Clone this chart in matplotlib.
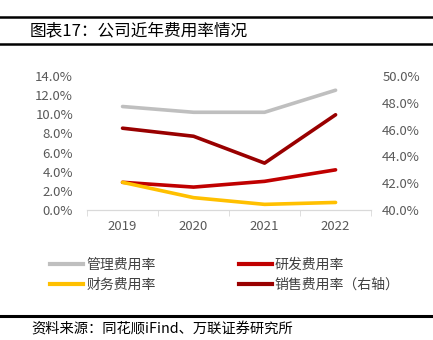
import matplotlib
matplotlib.use("Agg")
import matplotlib.pyplot as plt
from matplotlib.lines import Line2D
from matplotlib.ticker import FuncFormatter, FixedLocator

plt.rcParams["font.family"] = ["Noto Sans CJK SC", "DejaVu Sans"]

years = ["2019", "2020", "2021", "2022"]
admin_rate = [10.8, 10.2, 10.2, 12.5]      # 管理费用率, left axis
rnd_rate = [2.9, 2.4, 3.0, 4.2]            # 研发费用率, left axis
finance_rate = [2.9, 1.3, 0.6, 0.8]        # 财务费用率, left axis
sales_rate = [46.1, 45.5, 43.5, 47.1]      # 销售费用率, right axis

left_ticks = [0, 2, 4, 6, 8, 10, 12, 14]
right_ticks = [40, 42, 44, 46, 48, 50]

GRAY = "#BFBFBF"
RED = "#C00000"
DARKRED = "#990000"
YELLOW = "#FFC000"
TICK_COLOR = "#595959"

fig = plt.figure(figsize=(4.33, 3.4), dpi=100)
ax = fig.add_axes([0.201, 0.382, 0.656, 0.395])
ax2 = ax.twinx()

x = range(len(years))
lw = 2.6
ax.plot(x, admin_rate, color=GRAY, lw=lw, solid_capstyle="round")
ax.plot(x, rnd_rate, color=RED, lw=lw, solid_capstyle="round")
ax.plot(x, finance_rate, color=YELLOW, lw=lw, solid_capstyle="round")
ax2.plot(x, sales_rate, color=DARKRED, lw=lw, solid_capstyle="round")

ax.set_xlim(-0.5, len(years) - 0.5)
ax.set_ylim(0, 14)
ax2.set_ylim(40, 50)
ax.set_yticks(left_ticks)
ax2.set_yticks(right_ticks)
pct = FuncFormatter(lambda v, _: f"{v:.1f}%")
ax.yaxis.set_major_formatter(pct)
ax2.yaxis.set_major_formatter(pct)

ax.set_xticks(list(x))
ax.set_xticklabels(years)
ax.xaxis.set_minor_locator(FixedLocator([i - 0.5 for i in range(len(years) + 1)]))
ax.tick_params(axis="x", which="major", length=0, pad=7, labelsize=9.5, labelcolor=TICK_COLOR)
ax.tick_params(axis="x", which="minor", length=4, color="#D9D9D9", direction="out")
ax.tick_params(axis="y", length=0, pad=10, labelsize=9.5, labelcolor=TICK_COLOR)
ax2.tick_params(axis="y", length=0, pad=8, labelsize=9.5, labelcolor=TICK_COLOR)

for a in (ax, ax2):
    for side in ("top", "left", "right"):
        a.spines[side].set_visible(False)
    a.spines["bottom"].set_color("#D9D9D9")

handles = [
    Line2D([], [], color=GRAY, lw=3),
    Line2D([], [], color=YELLOW, lw=3),
    Line2D([], [], color=RED, lw=3),
    Line2D([], [], color=DARKRED, lw=3),
]
labels = ["管理费用率", "财务费用率", "研发费用率", "销售费用率（右轴）"]
fig.legend(handles, labels, loc="center left", bbox_to_anchor=(50 / 433, 1 - 275 / 340),
           ncol=2, frameon=False, fontsize=10, handlelength=2.4, handletextpad=0.2,
           columnspacing=6.0, labelspacing=0.45, borderpad=0, borderaxespad=0,
           labelcolor="#404040")

# header and footer rules
fig.add_artist(Line2D([0, 1], [1 - 17 / 340] * 2, color="black", lw=1.8))
fig.add_artist(Line2D([0, 1], [1 - 44 / 340] * 2, color="black", lw=1.8))
fig.add_artist(Line2D([0, 1], [1 - 316 / 340] * 2, color="black", lw=2.2))

fig.text(30 / 433, 1 - 31 / 340, "图表17：公司近年费用率情况", fontsize=12,
         va="center", ha="left", color="black")
fig.text(31 / 433, 1 - 330 / 340, "资料来源：同花顺iFind、万联证券研究所", fontsize=10.3,
         va="center", ha="left", color="black", style="italic")

fig.savefig("out.png", dpi=100)
